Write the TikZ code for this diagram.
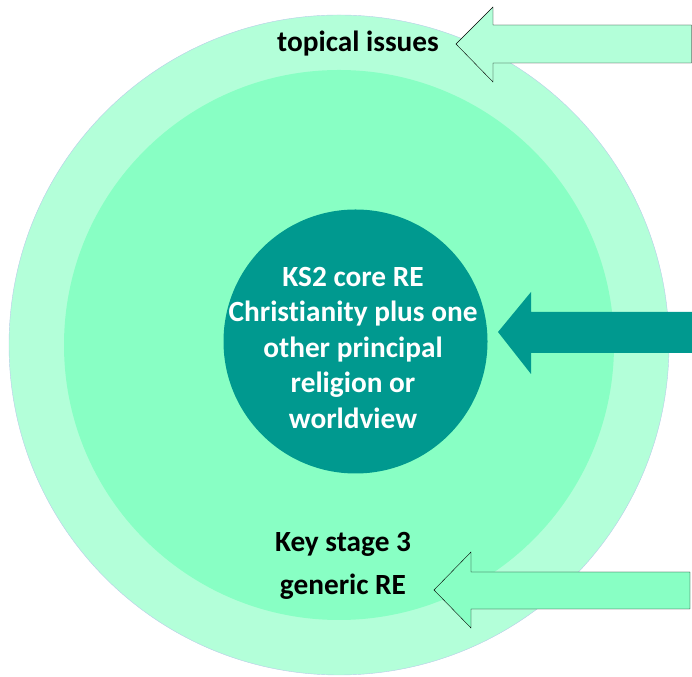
\documentclass[tikz,border=0pt]{standalone}
\usepackage{fontspec}
\setmainfont{Carlito}[Ligatures=NoCommon]
\usetikzlibrary{positioning}

\definecolor{paleMint}{RGB}{179,255,217}
\definecolor{mint}{RGB}{136,255,196}
\definecolor{coreTeal}{RGB}{0,153,143}
\definecolor{rimBlue}{RGB}{184,204,232}

\tikzset{
    ring/.style={circle, inner sep=0pt, draw=none},
    label text/.style={text=black, align=center,
        font=\fontsize{29.3}{35.5}\selectfont\bfseries},
    block arrow/.style={draw=black, thin, line join=miter},
}

\begin{document}
\begin{tikzpicture}[x=1pt, y=1pt]
        \useasboundingbox (0,0) rectangle (692,676);

        % rings
        \node (outer) at (339,331) [
            ring, minimum size=660pt,
            fill=paleMint, draw=rimBlue, thin,
        ] {};
        \node (middle) at (339,331) [
            ring, minimum size=550pt,
            fill=mint,
        ] {};
        \node (core) at (355.5,334.5) [
            ring, minimum size=264pt,
            fill=coreTeal,
        ] {};

        % labels
        \node (topical) at (358,632) [label text] {topical issues};
        \node (core text) at (353,328) [label text, text=white]
            {KS2 core RE\\Christianity plus one\\other principal\\religion or\\worldview};
        \node (stage) at (343,110) [label text,
            font=\fontsize{29.3}{43}\selectfont\bfseries]
            {Key stage 3\\generic RE};

        % arrows
        \draw[block arrow, fill=paleMint]
            (456,632) -- (493,669) -- (493,651) -- (691.5,651)
            -- (691.5,613) -- (493,613) -- (493,594) -- cycle;
        \fill[coreTeal]
            (498,344) -- (531,384) -- (531,364) -- (692,364)
            -- (692,323) -- (531,323) -- (531,302) -- cycle;
        \draw[block arrow, fill=mint]
            (434,86) -- (471,124) -- (471,104) -- (690,104)
            -- (690,67) -- (471,67) -- (471,48) -- cycle;
    \end{tikzpicture}
\end{document}
